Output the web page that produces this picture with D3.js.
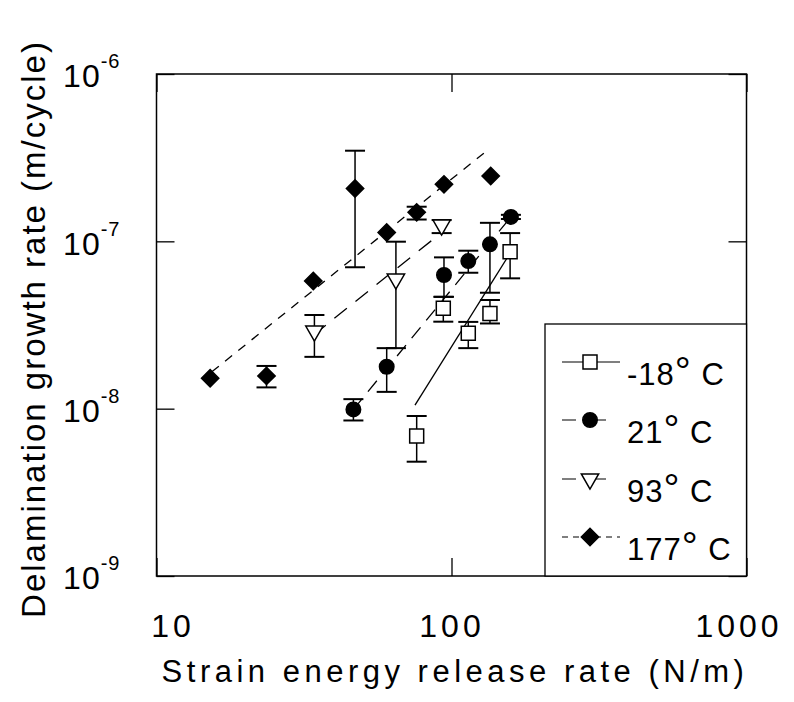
<!DOCTYPE html>
<html>
<head>
<meta charset="utf-8">
<script src="https://cdn.jsdelivr.net/npm/d3@7"></script>
<style>
  body { margin: 0; background: #fff; }
  text { font-family: "Liberation Sans", Arial, Helvetica, sans-serif; fill: #000; }
</style>
</head>
<body>
<svg id="chart" width="794" height="702"></svg>
<script>
// axis ticks
var xTicks = [10, 100, 1000];
var yTicks = [1e-9, 1e-8, 1e-7, 1e-6];

// -18 C (open squares, solid fit)
var g18 = [76.2, 93.8, 114, 135, 158];
var r18 = [6.86e-9, 3.98e-8, 2.82e-8, 3.71e-8, 8.67e-8];
var lo18 = [4.82e-9, 3.31e-8, 2.3e-8, 3.23e-8, 6.01e-8];
var hi18 = [9.04e-9, 4.66e-8, 3.3e-8, 4.46e-8, 1.12e-7];
var fit18 = [[75.2, 1.05e-8], [158, 8.5e-8]];

// 21 C (filled circles)
var g21 = [46.5, 60.3, 94.3, 114, 135, 159];
var r21 = [9.9e-9, 1.78e-8, 6.29e-8, 7.62e-8, 9.6e-8, 1.40e-7];
var lo21 = [8.5e-9, 1.26e-8, 4.66e-8, 6.49e-8, 4.93e-8, 1.36e-7];
var hi21 = [1.14e-8, 2.30e-8, 8.02e-8, 8.79e-8, 1.29e-7, 1.44e-7];
var fit21 = [[46.5, 9.9e-9], [159, 1.40e-7]];

// 93 C (open down triangles)
var g93 = [34.3, 64.8, 92.6];
var r93 = [2.91e-8, 5.95e-8, 1.25e-7];
var lo93 = [2.04e-8, 2.3e-8, 1.12e-7];
var hi93 = [3.63e-8, 9.95e-8, 1.34e-7];
var fit93 = [[34, 2.75e-8], [95, 1.17e-7]];

// 177 C (filled diamonds)
var g177 = [15.2, 23.6, 34.0, 47.1, 60.3, 76.2, 94.3, 135.8];
var r177 = [1.52e-8, 1.57e-8, 5.8e-8, 2.07e-7, 1.13e-7, 1.49e-7, 2.19e-7, 2.46e-7];
var lo177 = [null, 1.34e-8, null, 7.0e-8, null, 1.35e-7, null, null];
var hi177 = [null, 1.8e-8, null, 3.48e-7, null, 1.61e-7, null, null];
var fit177 = [[15.4, 1.66e-8], [135, 3.6e-7]];

var svg = d3.select("#chart");
var pLeft = 156.5, pRight = 746.5, pTop = 74, pBottom = 576;

var x = d3.scaleLog().domain([10, 1000]).range([pLeft, pRight]);
var y = d3.scaleLog().domain([1e-9, 1e-6]).range([pBottom, pTop]);

var series = [
  { name: "-18", g: g18, r: r18, lo: lo18, hi: hi18, fit: fit18, shape: "square", dash: null },
  { name: "21", g: g21, r: r21, lo: lo21, hi: hi21, fit: fit21, shape: "circle", dash: "14,9" },
  { name: "93", g: g93, r: r93, lo: lo93, hi: hi93, fit: fit93, shape: "triangle", dash: "16,11" },
  { name: "177", g: g177, r: r177, lo: lo177, hi: hi177, fit: fit177, shape: "diamond", dash: "9,8" }
];

function symbolPath(shape) {
  if (shape == "square") return d3.symbol().type(d3.symbolSquare).size(196)();
  if (shape == "circle") return d3.symbol().type(d3.symbolCircle).size(165)();
  if (shape == "triangle") return d3.symbol().type(d3.symbolTriangle).size(130)();
  return d3.symbol().type(d3.symbolSquare).size(150)();
}

function symbolRotate(shape) {
  if (shape == "triangle") return 180;
  if (shape == "diamond") return 45;
  return 0;
}

function drawMarker(g, shape, cx, cy) {
  var open = (shape == "square" || shape == "triangle");
  g.append("path")
    .attr("d", symbolPath(shape))
    .attr("transform", "translate(" + cx + "," + cy + ") rotate(" + symbolRotate(shape) + ")")
    .attr("fill", open ? "#fff" : "#000")
    .attr("stroke", "#000")
    .attr("stroke-width", 1.5);
}

// fit lines
var plot = svg.append("g");
series.forEach(function(s) {
  plot.append("line")
    .attr("x1", x(s.fit[0][0]))
    .attr("y1", y(s.fit[0][1]))
    .attr("x2", x(s.fit[1][0]))
    .attr("y2", y(s.fit[1][1]))
    .attr("stroke", "#000")
    .attr("stroke-width", 1.3)
    .attr("stroke-dasharray", s.dash);
});

// error bars
series.forEach(function(s) {
  s.g.forEach(function(gv, i) {
    if (s.lo[i] == null) return;
    var cx = x(gv);
    plot.append("line")
      .attr("x1", cx).attr("x2", cx)
      .attr("y1", y(s.lo[i])).attr("y2", y(s.hi[i]))
      .attr("stroke", "#000").attr("stroke-width", 1.5);
    [s.lo[i], s.hi[i]].forEach(function(v) {
      plot.append("line")
        .attr("x1", cx - 10).attr("x2", cx + 10)
        .attr("y1", y(v)).attr("y2", y(v))
        .attr("stroke", "#000").attr("stroke-width", 2);
    });
  });
});

// markers
series.forEach(function(s) {
  s.g.forEach(function(gv, i) {
    drawMarker(plot, s.shape, x(gv), y(s.r[i]));
  });
});

// axes, ticks pointing inside on all four sides
var axisG = svg.append("g").attr("class", "axes");
axisG.append("g")
  .attr("class", "xaxis")
  .attr("transform", "translate(0," + pBottom + ")")
  .call(d3.axisBottom(x).tickValues(xTicks).tickSizeInner(-18).tickSizeOuter(0).tickPadding(38)
    .tickFormat(d3.format("d")));
axisG.append("g")
  .attr("transform", "translate(0," + pTop + ")")
  .call(d3.axisTop(x).tickValues(xTicks).tickSizeInner(-18).tickSizeOuter(0).tickFormat(""));
axisG.append("g")
  .attr("class", "yaxis")
  .attr("transform", "translate(" + pLeft + ",0)")
  .call(d3.axisLeft(y).tickValues(yTicks).tickSizeInner(-18).tickSizeOuter(0).tickPadding(36)
    .tickFormat(""));
axisG.append("g")
  .attr("transform", "translate(" + pRight + ",0)")
  .call(d3.axisRight(y).tickValues(yTicks).tickSizeInner(-18).tickSizeOuter(0).tickFormat(""));

axisG.selectAll(".domain").remove();
axisG.selectAll(".tick line").attr("stroke", "#000").attr("stroke-width", 1.3);
axisG.selectAll(".tick text")
  .attr("font-family", null)
  .style("font-size", "32px")
  .style("letter-spacing", "4px")
  .attr("fill", "#000");

// x labels in the original sit a little off their ticks
var xLabelShift = { 10: 16, 100: 0, 1000: -8 };
axisG.select(".xaxis").selectAll(".tick text")
  .attr("dx", function(d) { return xLabelShift[d]; });

// y tick labels as 10 with superscript exponent
axisG.select(".yaxis").selectAll(".tick text")
  .attr("dy", "0.4em")
  .style("letter-spacing", "1px")
  .each(function(d) {
    var t = d3.select(this);
    t.text(null);
    t.append("tspan").text("10");
    t.append("tspan").attr("dy", -19).style("font-size", "20px")
      .text(String(Math.round(Math.log10(d))));
  });

// frame
svg.append("rect")
  .attr("x", pLeft).attr("y", pTop)
  .attr("width", pRight - pLeft).attr("height", pBottom - pTop)
  .attr("fill", "none").attr("stroke", "#000").attr("stroke-width", 1.5);

// legend box
var lgX = 545, lgY = 324;
svg.append("rect")
  .attr("x", lgX).attr("y", lgY)
  .attr("width", pRight - lgX).attr("height", pBottom - lgY)
  .attr("fill", "#fff").attr("stroke", "#000").attr("stroke-width", 1.3);

var rowY = [385, 443, 502, 560];
series.forEach(function(s, i) {
  var sy = rowY[i] - 23;
  svg.append("line")
    .attr("x1", 562).attr("x2", 620)
    .attr("y1", sy).attr("y2", sy)
    .attr("stroke", "#000").attr("stroke-width", 1.2)
    .attr("stroke-dasharray", s.name == "177" ? "6,5" : (s.dash ? "14,16" : null));
  drawMarker(svg, s.shape, 590, sy);
  var t = svg.append("text")
    .attr("x", 627).attr("y", rowY[i])
    .style("font-size", "31px")
    .style("letter-spacing", "1px");
  t.append("tspan").text(s.name);
  t.append("tspan").style("font-size", "40px").text("°");
  t.append("tspan").text(" C");
});

// axis titles
svg.append("text")
  .attr("x", 455).attr("y", 682)
  .attr("text-anchor", "middle")
  .style("font-size", "31px")
  .style("letter-spacing", "4.5px")
  .text("Strain energy release rate (N/m)");

svg.append("text")
  .attr("transform", "translate(45," + ((pTop + pBottom) / 2 + 4) + ") rotate(-90)")
  .attr("text-anchor", "middle")
  .style("font-size", "33px")
  .style("letter-spacing", "2px")
  .text("Delamination growth rate (m/cycle)");
</script>
</body>
</html>
